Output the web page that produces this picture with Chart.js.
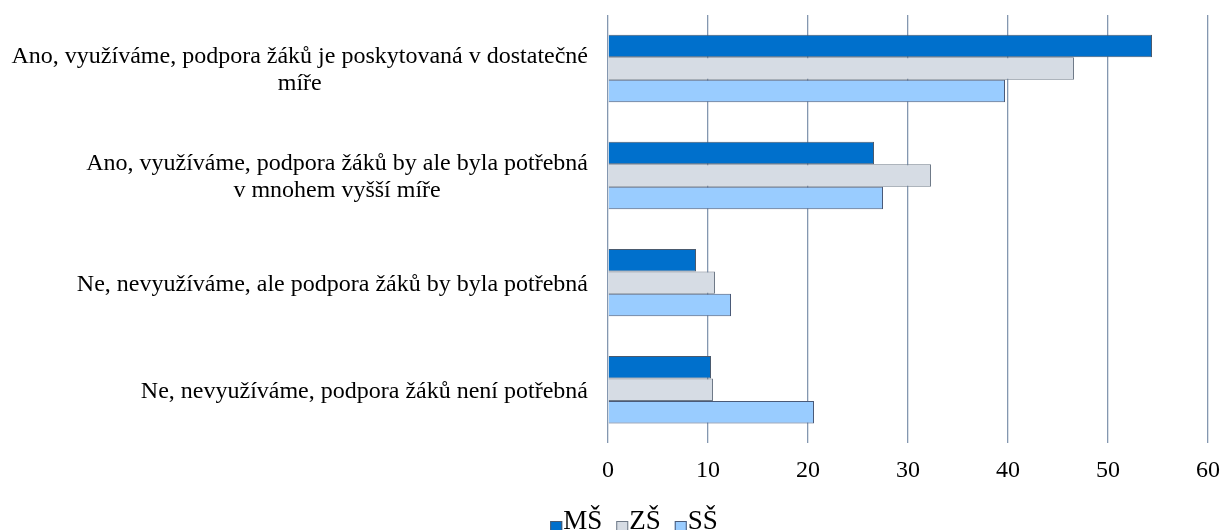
<!DOCTYPE html>
<html>
<head>
<meta charset="utf-8">
<script src="https://cdn.jsdelivr.net/npm/chart.js@4"></script>
<style>
  html, body { margin: 0; padding: 0; background: #fff; }
  #wrap { width: 1222px; height: 530px; }
</style>
</head>
<body>
<div id="wrap"><canvas id="c" width="1222" height="530"></canvas></div>
<script>
const categories = [
  ['Ano, využíváme, podpora žáků je poskytovaná v dostatečné', 'míře'],
  ['Ano, využíváme, podpora žáků by ale byla potřebná', 'v mnohem vyšší míře'],
  ['Ne, nevyužíváme, ale podpora žáků by byla potřebná'],
  ['Ne, nevyužíváme, podpora žáků není potřebná']
];
const seriesNames = ['MŠ', 'ZŠ', 'SŠ'];
const ms = [54.4, 26.6, 8.8, 10.3];
const zs = [46.6, 32.3, 10.7, 10.5];
const ss = [39.7, 27.5, 12.3, 20.6];
const xTicks = [0, 10, 20, 30, 40, 50, 60];

const FONT = '"Liberation Serif", "Times New Roman", serif';

// category labels: block right-aligned to the axis, lines centred inside the block
const yLabels = {
  id: 'yLabels',
  afterDraw(chart) {
    const ctx = chart.ctx;
    const y = chart.scales.y;
    const right = chart.chartArea.left - 20;
    const lh = 27;
    ctx.save();
    ctx.font = '24px ' + FONT;
    ctx.fillStyle = '#000';
    ctx.textBaseline = 'middle';
    ctx.textAlign = 'center';
    categories.forEach((lines, i) => {
      const w = Math.max(...lines.map(l => ctx.measureText(l).width));
      const cx = right - w / 2;
      const yc = y.getPixelForTick(i) + 2;
      lines.forEach((l, j) => ctx.fillText(l, cx, yc + (j - (lines.length - 1) / 2) * lh));
    });
    ctx.restore();
  }
};

// legend at the bottom, boxes tight against their text like the original
const bottomLegend = {
  id: 'bottomLegend',
  afterDraw(chart) {
    const ctx = chart.ctx;
    const box = 12, gap = 1, spacing = 14;
    ctx.save();
    ctx.font = '27px ' + FONT;
    const sets = chart.data.datasets;
    const widths = sets.map(d => box + gap + ctx.measureText(d.label).width);
    const total = widths.reduce((a, b) => a + b, 0) + spacing * (sets.length - 1);
    let x = 634 - total / 2;
    const base = 529;
    sets.forEach((d, i) => {
      ctx.fillStyle = d.backgroundColor;
      ctx.fillRect(x, base - 8, box, box);
      ctx.strokeStyle = d.borderColor;
      ctx.lineWidth = 1;
      ctx.strokeRect(x + 0.5, base - 7.5, box - 1, box - 1);
      ctx.fillStyle = '#000';
      ctx.textBaseline = 'alphabetic';
      ctx.textAlign = 'left';
      ctx.fillText(d.label, x + box + gap, base);
      x += widths[i] + spacing;
    });
    ctx.restore();
  }
};

function make(name, data) {
  const styles = {
    'MŠ': { bg: '#0070CC', border: '#4a5a6e' },
    'ZŠ': { bg: '#D6DCE4', border: '#6f7a88' },
    'SŠ': { bg: '#99CCFF', border: '#4a5a78' }
  };
  return {
    label: name,
    data: data,
    backgroundColor: styles[name].bg,
    borderColor: styles[name].border,
    borderWidth: 1,
    categoryPercentage: 0.63,
    barPercentage: 1
  };
}

new Chart(document.getElementById('c').getContext('2d'), {
  type: 'bar',
  data: {
    labels: categories.map(c => c.join(' ')),
    datasets: [
      make(seriesNames[0], ms),
      make(seriesNames[1], zs),
      make(seriesNames[2], ss)
    ]
  },
  options: {
    indexAxis: 'y',
    responsive: false,
    animation: false,
    layout: { padding: { top: 15, right: 0, bottom: 32, left: 0 } },
    plugins: {
      tooltip: { enabled: false },
      legend: { display: false }
    },
    scales: {
      x: {
        min: 0,
        max: 60,
        afterBuildTicks(scale) { scale.ticks = xTicks.map(v => ({ value: v })); },
        afterFit(scale) { scale.paddingRight = 14; },
        border: { display: false },
        grid: { color: '#8497B0', lineWidth: 1.3, drawTicks: false },
        ticks: { font: { family: FONT, size: 24 }, color: '#000', padding: 13 }
      },
      y: {
        border: { display: false },
        grid: { display: false },
        ticks: { display: false },
        afterFit(scale) { scale.width = 608; }
      }
    }
  },
  plugins: [yLabels, bottomLegend]
});
</script>
</body>
</html>
